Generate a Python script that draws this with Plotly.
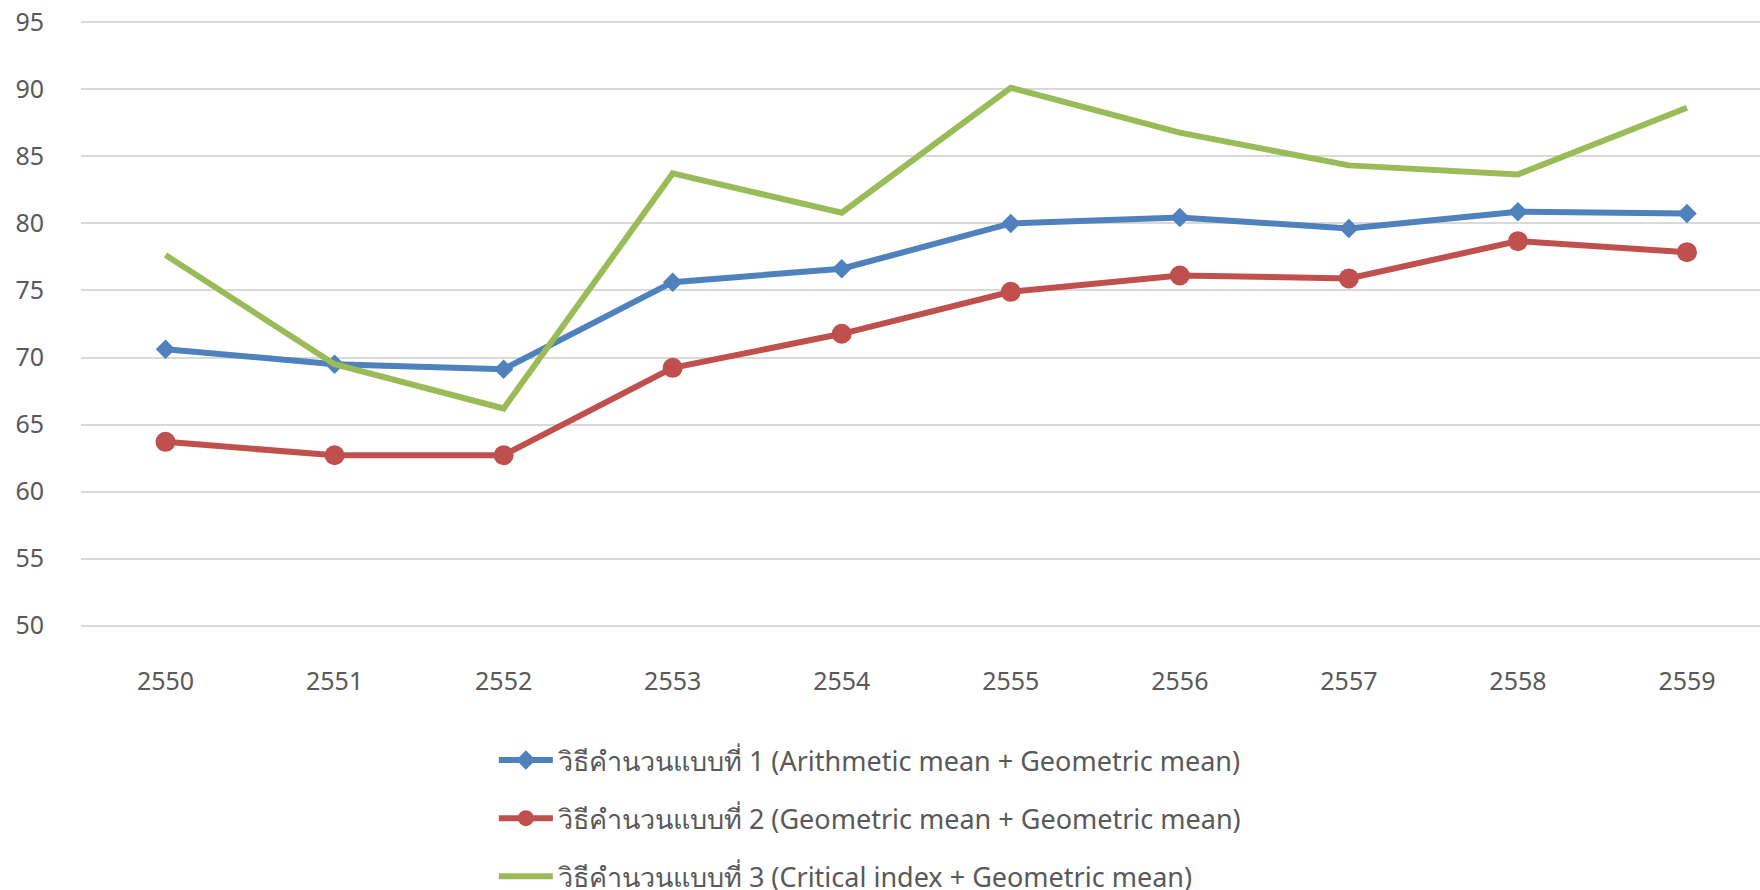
import plotly.graph_objects as go

years = ["2550", "2551", "2552", "2553", "2554", "2555", "2556", "2557", "2558", "2559"]
method1 = [70.62, 69.50, 69.13, 75.62, 76.62, 80.00, 80.45, 79.63, 80.87, 80.75]
method2 = [63.71, 62.71, 62.71, 69.23, 71.77, 74.90, 76.12, 75.90, 78.68, 77.86]
method3 = [77.64, 69.50, 66.20, 83.73, 80.80, 90.12, 86.77, 84.33, 83.66, 88.63]
names = [
    "วิธีคำนวนแบบที่ 1 (Arithmetic mean + Geometric mean)",
    "วิธีคำนวนแบบที่ 2 (Geometric mean + Geometric mean)",
    "วิธีคำนวนแบบที่ 3 (Critical index + Geometric mean)",
]
y_ticks = [50, 55, 60, 65, 70, 75, 80, 85, 90, 95]

FONT = "Noto Sans, Open Sans, sans-serif"
GRAY = "#595959"

fig = go.Figure()
fig.add_trace(go.Scatter(
    x=years, y=method1, name=names[0], mode="lines+markers", legendgroup="a",
    line=dict(color="#4F81BD", width=6),
    marker=dict(symbol="diamond", size=15, color="#4F81BD"),
))
fig.add_trace(go.Scatter(
    x=years, y=method2, name=names[1], mode="lines+markers", legendgroup="b",
    line=dict(color="#C0504D", width=6),
    marker=dict(symbol="circle", size=20, color="#C0504D"),
))
fig.add_trace(go.Scatter(
    x=years, y=method3, name=names[2], mode="lines", legendgroup="c",
    line=dict(color="#9BBB59", width=6),
))

fig.update_layout(
    width=1760, height=890,
    margin=dict(l=81, r=0, t=21, b=263, autoexpand=False),
    paper_bgcolor="white", plot_bgcolor="white",
    font=dict(family=FONT, size=25, color=GRAY),
    showlegend=True,
    legend=dict(
        orientation="v", xref="container", yref="container",
        x=0.2806, xanchor="left", y=0.1730, yanchor="top",
        font=dict(family=FONT, size=27, color=GRAY),
        itemwidth=54,
        tracegroupgap=20, bgcolor="rgba(0,0,0,0)",
    ),
    xaxis=dict(
        type="category", range=[-0.5, 9.432],
        showgrid=False, showline=False, ticks="", zeroline=False, tickangle=0,
        tickfont=dict(size=25, color=GRAY), ticklabelstandoff=37,
    ),
    yaxis=dict(
        range=[49.9, 95.1], tickvals=y_ticks, showgrid=True, gridcolor="#D9D9D9", gridwidth=1.5,
        showline=False, zeroline=False, ticks="", ticklabeloverflow="allow",
        tickfont=dict(size=25, color=GRAY), ticklabelstandoff=36,
    ),
)

fig.write_html("out.html", config={"displayModeBar": False},
               post_script="document.body.style.margin='0';")
